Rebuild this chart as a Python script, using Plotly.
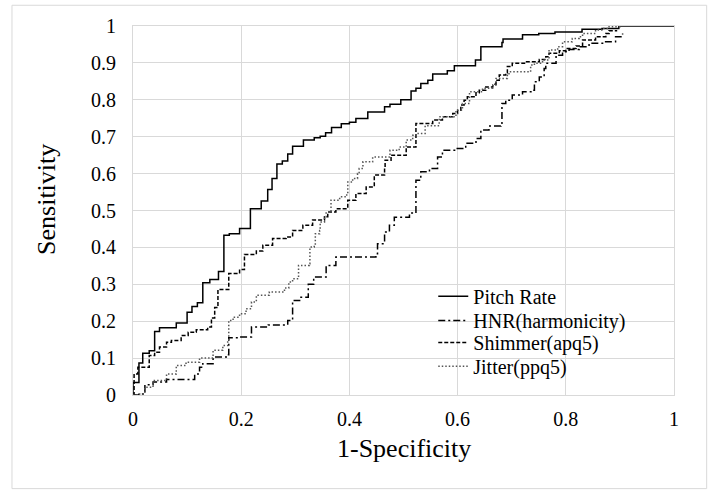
import plotly.graph_objects as go

# ---- data (ROC step curves) ----
pitch_fpr = [0, 0, 0.011, 0.018, 0.03, 0.04, 0.049, 0.08, 0.1, 0.109, 0.119, 0.129, 0.142, 0.158, 0.168,
             0.178, 0.197, 0.217, 0.237, 0.249, 0.257, 0.266, 0.276, 0.286, 0.295, 0.315, 0.335, 0.346,
             0.356, 0.367, 0.385, 0.4, 0.412, 0.434, 0.465, 0.475, 0.495, 0.514, 0.523, 0.532, 0.545,
             0.554, 0.581, 0.594, 0.633, 0.643, 0.682, 0.684, 0.72, 0.75, 0.78, 0.83, 0.867, 0.898, 1.0]
pitch_tpr = [0, 0.034, 0.087, 0.113, 0.12, 0.172, 0.182, 0.195, 0.224, 0.24, 0.25, 0.304, 0.313, 0.335, 0.433,
             0.437, 0.451, 0.505, 0.526, 0.557, 0.587, 0.626, 0.634, 0.653, 0.674, 0.691, 0.697, 0.701,
             0.711, 0.725, 0.735, 0.739, 0.749, 0.767, 0.781, 0.788, 0.8, 0.824, 0.831, 0.844, 0.853,
             0.87, 0.879, 0.892, 0.908, 0.944, 0.955, 0.965, 0.976, 0.98, 0.984, 0.991, 0.993, 1.0, 1.0]

hnr_fpr = [0, 0.011, 0.022, 0.037, 0.062, 0.114, 0.123, 0.129, 0.148, 0.175, 0.177, 0.197, 0.219, 0.25,
           0.286, 0.295, 0.308, 0.324, 0.334, 0.357, 0.375, 0.449, 0.452, 0.465, 0.474, 0.483, 0.511,
           0.523, 0.523, 0.532, 0.548, 0.563, 0.572, 0.597, 0.615, 0.634, 0.643, 0.658, 0.68, 0.682,
           0.689, 0.701, 0.72, 0.738, 0.742, 0.751, 0.76, 0.763, 0.782, 0.794, 0.806, 0.825, 0.843,
           0.868, 0.892, 0.905]
hnr_tpr = [0, 0.003, 0.028, 0.035, 0.042, 0.057, 0.075, 0.085, 0.103, 0.109, 0.155, 0.157, 0.184, 0.19,
           0.202, 0.256, 0.265, 0.3, 0.32, 0.351, 0.374, 0.383, 0.41, 0.442, 0.46, 0.482, 0.493,
           0.501, 0.582, 0.605, 0.614, 0.645, 0.663, 0.668, 0.682, 0.695, 0.718, 0.729, 0.734, 0.79,
           0.799, 0.813, 0.822, 0.826, 0.849, 0.862, 0.885, 0.899, 0.921, 0.93, 0.936, 0.944, 0.953,
           0.957, 0.971, 0.98]

shim_fpr = [0, 0.002, 0.009, 0.03, 0.04, 0.049, 0.062, 0.071, 0.089, 0.102, 0.117, 0.138, 0.145, 0.151,
            0.157, 0.177, 0.177, 0.197, 0.206, 0.228, 0.24, 0.258, 0.283, 0.295, 0.314, 0.332, 0.354,
            0.36, 0.375, 0.397, 0.412, 0.431, 0.446, 0.465, 0.466, 0.477, 0.505, 0.505, 0.523, 0.554,
            0.572, 0.591, 0.6, 0.606, 0.612, 0.618, 0.634, 0.64, 0.652, 0.665, 0.671, 0.677, 0.689,
            0.692, 0.701, 0.726, 0.751, 0.763, 0.769, 0.788, 0.8, 0.819, 0.831, 0.855, 0.874, 0.88, 0.895]
shim_tpr = [0, 0.057, 0.075, 0.107, 0.116, 0.13, 0.143, 0.148, 0.161, 0.17, 0.177, 0.184, 0.209, 0.237,
            0.286, 0.291, 0.329, 0.34, 0.381, 0.39, 0.406, 0.424, 0.428, 0.446, 0.46, 0.474, 0.483,
            0.496, 0.505, 0.528, 0.546, 0.564, 0.596, 0.614, 0.636, 0.65, 0.656, 0.672, 0.736, 0.745,
            0.754, 0.763, 0.772, 0.786, 0.799, 0.808, 0.819, 0.826, 0.835, 0.842, 0.853, 0.867, 0.873,
            0.89, 0.899, 0.903, 0.909, 0.917, 0.926, 0.933, 0.939, 0.946, 0.962, 0.971, 0.98, 0.987, 0.987]

jit_fpr = [0, 0.011, 0.022, 0.037, 0.062, 0.08, 0.098, 0.123, 0.148, 0.166, 0.175, 0.177, 0.185, 0.197,
           0.209, 0.219, 0.228, 0.252, 0.28, 0.288, 0.295, 0.306, 0.326, 0.327, 0.335, 0.337, 0.345,
           0.346, 0.354, 0.357, 0.366, 0.366, 0.382, 0.395, 0.397, 0.406, 0.415, 0.418, 0.425, 0.443,
           0.474, 0.475, 0.492, 0.505, 0.517, 0.523, 0.54, 0.566, 0.597, 0.609, 0.622, 0.646, 0.665,
           0.671, 0.692, 0.695, 0.732, 0.735, 0.742, 0.757, 0.769, 0.785, 0.794, 0.812, 0.825, 0.831,
           0.855, 0.868, 0.88, 0.9]
jit_tpr = [0, 0.003, 0.021, 0.039, 0.057, 0.08, 0.089, 0.1, 0.121, 0.134, 0.148, 0.202, 0.211, 0.22,
           0.234, 0.252, 0.27, 0.279, 0.29, 0.306, 0.315, 0.351, 0.356, 0.401, 0.406, 0.437, 0.446,
           0.469, 0.483, 0.496, 0.51, 0.528, 0.537, 0.546, 0.577, 0.587, 0.6, 0.614, 0.632, 0.645,
           0.65, 0.663, 0.672, 0.691, 0.704, 0.709, 0.73, 0.754, 0.772, 0.79, 0.822, 0.831, 0.84,
           0.858, 0.867, 0.876, 0.876, 0.894, 0.899, 0.908, 0.935, 0.944, 0.957, 0.966, 0.971, 0.98,
           0.989, 0.993, 0.998, 1.0]

series_names = ["Pitch Rate", "HNR(harmonicity)", "Shimmer(apq5)", "Jitter(ppq5)"]
x_ticks = [0, 0.2, 0.4, 0.6, 0.8, 1]
x_tick_text = ["0", "0.2", "0.4", "0.6", "0.8", "1"]
y_ticks = [0, 0.1, 0.2, 0.3, 0.4, 0.5, 0.6, 0.7, 0.8, 0.9, 1]
y_tick_text = ["0", "0.1", "0.2", "0.3", "0.4", "0.5", "0.6", "0.7", "0.8", "0.9", "1"]

FONT = "Liberation Serif"
GRID = "#d9d9d9"

fig = go.Figure()
styles = [
    dict(color="#000000", width=1.5, dash="solid"),
    dict(color="#000000", width=1.5, dash="7px,3px,2px,3px"),
    dict(color="#000000", width=1.5, dash="4px,2px"),
    dict(color="#555555", width=1.5, dash="1.5px,2px"),
]
legend_ids = ["legend", "legend2", "legend3", "legend4"]
legend_y = [0.2676, 0.2016, 0.1424, 0.0776]
data = [(pitch_fpr, pitch_tpr), (hnr_fpr, hnr_tpr), (shim_fpr, shim_tpr), (jit_fpr, jit_tpr)]
for (xs, ys), name, st, lid in zip(data, series_names, styles, legend_ids):
    fig.add_trace(go.Scatter(x=xs, y=ys, mode="lines", name=name, legend=lid,
                             line=dict(shape="hv", **st)))

legend_common = dict(x=0.555, xanchor="left", yanchor="middle", bgcolor="rgba(0,0,0,0)",
                     font=dict(family=FONT, size=20, color="black"), itemwidth=30,
                     borderwidth=0)
legends = {lid: dict(y=ly, **legend_common) for lid, ly in zip(legend_ids, legend_y)}

fig.update_layout(
    width=711, height=493,
    margin=dict(l=133, r=37, t=26, b=98, pad=0),
    paper_bgcolor="white", plot_bgcolor="white",
    font=dict(family=FONT, size=20, color="black"),
    showlegend=True,
    xaxis=dict(range=[0, 1], tickvals=x_ticks, ticktext=x_tick_text, showgrid=True, gridcolor=GRID,
               gridwidth=1, zeroline=False, showline=True, linecolor=GRID, linewidth=1, mirror=True,
               ticks="", ticklabelstandoff=6, tickfont=dict(family=FONT, size=20, color="black")),
    yaxis=dict(range=[0, 1], tickvals=y_ticks, ticktext=y_tick_text, showgrid=True, gridcolor=GRID,
               gridwidth=1, zeroline=False, showline=True, linecolor=GRID, linewidth=1, mirror=True,
               ticks="", ticklabelstandoff=12, tickfont=dict(family=FONT, size=20, color="black")),
    annotations=[
        dict(text="1-Specificity", xref="paper", yref="paper", x=0.5, y=-0.1452, xanchor="center",
             yanchor="middle", showarrow=False, font=dict(family=FONT, size=26, color="black")),
        dict(text="Sensitivity", xref="paper", yref="paper", x=-0.1595, y=0.5305, xanchor="center",
             yanchor="middle", textangle=-90, showarrow=False, font=dict(family=FONT, size=26, color="black")),
    ],
    shapes=[
        dict(type="rect", xref="paper", yref="paper", x0=-0.2237, x1=1.0604, y0=-0.2537, y1=1.0562,
             line=dict(color=GRID, width=1), fillcolor="rgba(0,0,0,0)", layer="below"),
    ],
    **legends,
)

fig.write_html("out.html", config={"displayModeBar": False},
               post_script="document.body.style.margin='0px';")
